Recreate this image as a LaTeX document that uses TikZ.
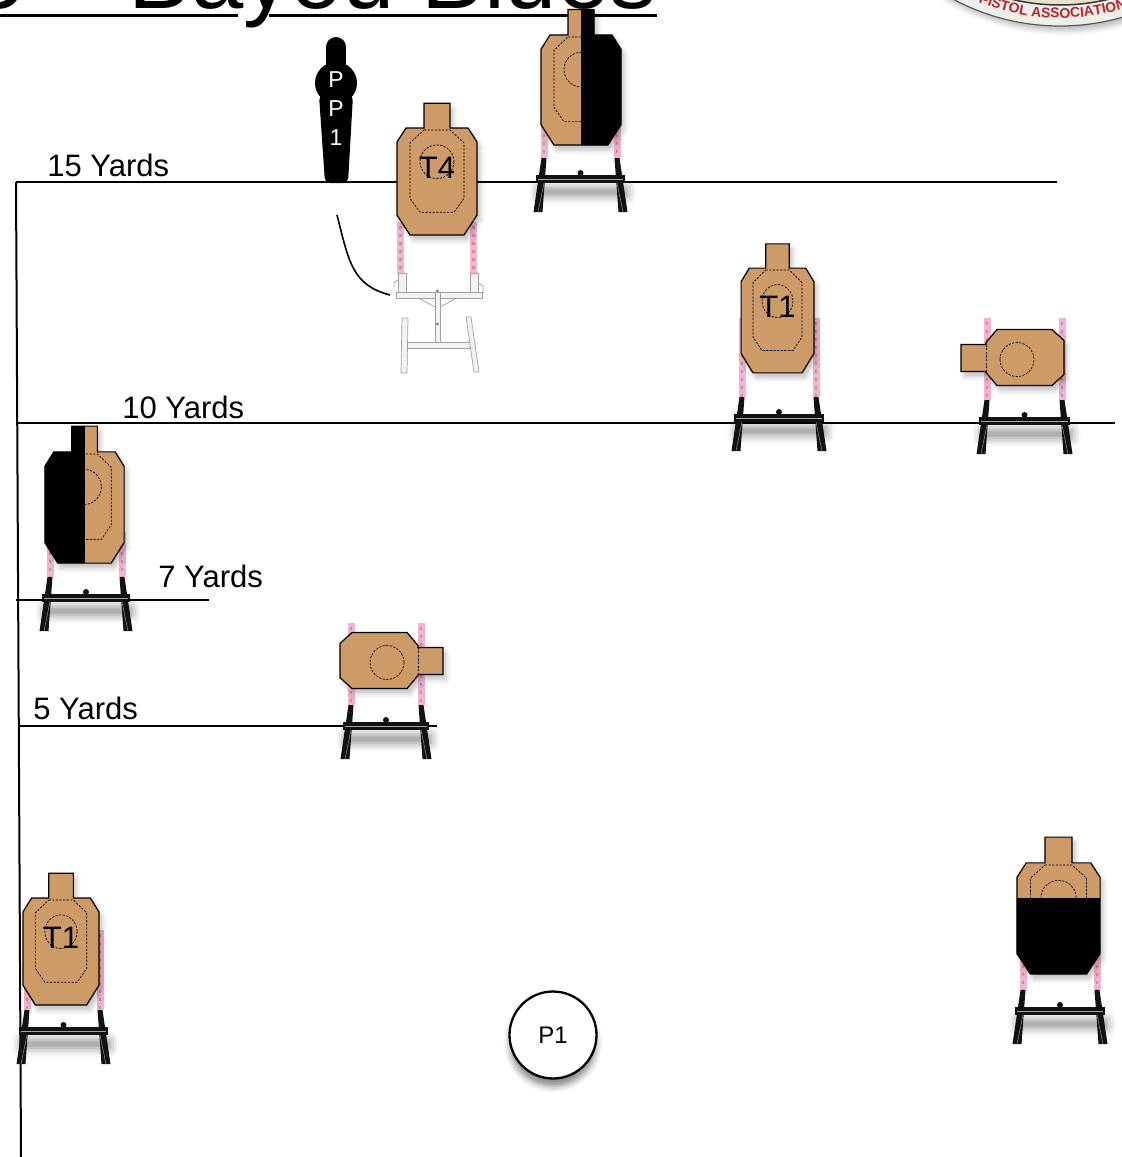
\documentclass[tikz,border=0pt]{standalone}
\usepackage{fontspec}
\setmainfont{Liberation Sans}
\usetikzlibrary{shadows.blur, decorations.text}

\definecolor{targettan}{RGB}{205,155,104}
\definecolor{stickpink}{RGB}{238,155,195}
\definecolor{stickcore}{RGB}{196,110,110}
\definecolor{standblack}{RGB}{18,18,18}
\definecolor{framegray}{RGB}{160,160,160}
\definecolor{framewhite}{RGB}{242,242,242}
\definecolor{sealred}{RGB}{185,35,45}
\definecolor{sealband}{RGB}{238,238,234}
\definecolor{sealinner}{RGB}{232,226,204}

\tikzset{
    targetline/.style={draw=black, line width=1.2pt},
    zoneline/.style={draw=black, line width=0.7pt, dash pattern=on 2.2pt off 1.4pt},
    yardline/.style={draw=black, line width=2pt},
    yardlabel/.style={anchor=base west, inner sep=0pt, font=\fontsize{31}{31}\selectfont},
    targetlabel/.style={inner sep=0pt, font=\fontsize{31}{31}\selectfont},
    softshadow/.style={blur shadow={shadow xshift=3pt, shadow yshift=-5pt,
        shadow blur radius=5pt, shadow opacity=25}},
    barshadow/.style={blur shadow={shadow xshift=2pt, shadow yshift=-13pt,
        shadow blur radius=9pt, shadow opacity=45}},
}

% outline of an upright target, body centred on the origin
\newcommand*{\TargetPath}{(-40,-40) -- (-31,-54) -- (-13,-54) -- (-13,-79) -- (13,-79)
    -- (13,-54) -- (31,-54) -- (40,-40) -- (40,34) -- (27,54) -- (-27,54) -- (-40,34) -- cycle}
\newcommand*{\ZonePath}{(-13,-52) -- (13,-52) -- (27,-39) -- (27,17) -- (17,31)
    -- (-17,31) -- (-27,17) -- (-27,-39) -- cycle}
% same target lying on its side, head to the right
\newcommand*{\SidePath}{(-39,-17) -- (-27,-28) -- (28,-28) -- (39,-15) -- (39,-13) -- (64,-13)
    -- (64,14) -- (39,14) -- (39,15) -- (28,28) -- (-27,28) -- (-39,17) -- cycle}

\newcommand*{\DrawPosts}[4]{%
    % #1 = centre x
    % #2 = half spacing of the posts
    % #3 = top of the posts
    % #4 = bottom of the posts
    \foreach \s in {-1,1} {
        \fill[stickpink, opacity=0.75] ({#1+(\s)*(#2)-3.5},#3) rectangle ({#1+(\s)*(#2)+3.5},#4);
        \draw[stickcore, line width=2.5pt, dash pattern=on 3pt off 5pt, opacity=0.6]
            ({#1+(\s)*(#2)},#3+4) -- ({#1+(\s)*(#2)},#4);
    }
}

\newcommand*{\DrawStand}[4]{%
    % #1 = centre x
    % #2 = half spacing of the legs
    % #3 = top of the pink posts
    % #4 = top of the legs
    \DrawPosts{#1}{#2}{#3}{#4}
    \fill[standblack, barshadow] (#1-#2-8,#4+17) rectangle (#1+#2+8,#4+25);
    \foreach \s in {-1,1} {% legs
        \fill[standblack] ({#1+(\s)*(#2)-2.5},#4) -- ({#1+(\s)*(#2)+2.5},#4)
            -- ({#1+(\s)*(#2+6)+4.5},#4+54) -- ({#1+(\s)*(#2+6)-4.5},#4+54) -- cycle;
        \draw[gray, line width=0.6pt] ({#1+(\s)*(#2)},#4+25) -- ({#1+(\s)*(#2+6)},#4+54);
    }
    \draw[gray!70, line width=0.6pt] (#1-#2-6,#4+21) -- (#1+#2+6,#4+21);
    \fill[standblack] (#1,#4+15) circle (3);
}

\newcommand*{\DrawTarget}[5][]{%
    % #1 = part painted black (optional)
    % #2 = centre of the body
    % #3 = xscale, #4 = yscale
    % #5 = label
    \begin{scope}[shift={#2}, xscale=#3, yscale=#4]
        \fill[targettan, softshadow] \TargetPath;
        \draw[zoneline] \ZonePath;
        \draw[zoneline] (0,-20) circle (17);
        \if\relax\detokenize{#1}\relax\else
            \begin{scope}
                \clip \TargetPath;
                \fill[black] #1;
            \end{scope}
        \fi
        \draw[targetline] \TargetPath;
        \node[targetlabel] at (0,-14) {#5};
    \end{scope}
}

\newcommand*{\DrawSideTarget}[2]{%
    % #1 = centre of the body
    % #2 = 1 for the head to the right, -1 for the head to the left
    \begin{scope}[shift={#1}, xscale=#2]
        \fill[targettan, softshadow] \SidePath;
        \draw[zoneline] (8,2) circle (17);
        \draw[zoneline] (39,-13) -- (39,14);
        \draw[targetline] \SidePath;
    \end{scope}
}

\begin{document}
\begin{tikzpicture}[x=1pt, y=-1pt, thick]
    \useasboundingbox (0,0) rectangle (1122,1157);
    \clip (0,0) rectangle (1122,1157);

    % club seal in the corner
    \begin{scope}[y=1pt]
        \filldraw[fill=sealband, draw=gray!70!black, line width=1.2pt, softshadow]
            (1060,200) circle (226);
        \filldraw[fill=sealinner, draw=black!80, line width=1.5pt] (1060,200) circle (205);
        \path[decorate, decoration={text along path, text color=sealred,
            text={|\bfseries\fontsize{14}{14}\selectfont|PISTOL ASSOCIATION}}]
            (1060,200) ++(248:218) arc[start angle=248, end angle=300, radius=218];
    \end{scope}

    % title
    \node[anchor=base east, inner sep=0pt, font=\fontsize{94}{94}\selectfont]
        (title) at (657,8) {5 – Bayou Blues};
    \draw[line width=3pt] (0,15) -- (238,15) (269,15) -- (657,15);

    % distance lines
    \draw[yardline] (16,182) -- (21,1157);
    \draw[yardline] (16,182) -- (1057,182);
    \draw[yardline] (16,423) -- (1115,423);
    \draw[yardline] (16,600) -- (209,600);
    \draw[yardline] (18,726) -- (437,726);
    \node[yardlabel] (y15) at (47,176) {15 Yards};
    \node[yardlabel] (y10) at (122,418) {10 Yards};
    \node[yardlabel] (y7) at (158,587) {7 Yards};
    \node[yardlabel] (y5) at (33,719) {5 Yards};

    % stands
    \foreach \px/\pw/\ps/\pl in {580.5/36.5/122/158, 779/37/318/397, 1024.5/37.5/318/400,
        86/36/532/577, 386/35/623/705, 63.5/36.5/930/1010, 1060/37/945/990}
        {\DrawStand{\px}{\pw}{\ps}{\pl}}

    % white stand under T4
    \DrawPosts{437}{36.5}{222}{275}
    \begin{scope}[fill=framewhite, draw=framegray, line width=0.7pt]
        \filldraw (398,273) rectangle (406,297);
        \filldraw (470,273) rectangle (478,297);
        \filldraw (396,292) rectangle (482,298);
        \draw (418,298) -- (435,307) (457,298) -- (440,307);
        \filldraw (435,292) rectangle (440,345);
        \filldraw (407,342) rectangle (472,348);
        \filldraw (402,318) -- (408,318) -- (407,373) -- (401,373) -- cycle;
        \filldraw (466,317) -- (471,317) -- (479,372) -- (474,372) -- cycle;
        \draw (398,280) -- (394,283) -- (394,287);
        \draw (478,283) -- (483,286) -- (483,294);
        \fill[gray] (437.5,291) circle (1.6) (437.5,324) circle (1.6);
    \end{scope}

    % targets
    \DrawTarget{(437,181.5)}{1}{0.99}{T4}
    \DrawTarget[(0,-100) rectangle (60,70)]{(581,90)}{1}{1.02}{}
    \DrawTarget{(777.5,320.5)}{0.91}{0.97}{T1}
    \DrawTarget[(-60,-100) rectangle (0,70)]{(84.5,507.5)}{0.99}{1.03}{}
    \DrawTarget{(61,951.5)}{0.95}{0.99}{T1}
    \DrawTarget[(-60,-20) rectangle (60,70)]{(1058.5,918.5)}{1.04}{1.03}{}
    \DrawSideTarget{(1025,357.5)}{-1}
    \DrawSideTarget{(379,660.5)}{1}

    % no-shoot silhouette
    \fill (336,47) circle (10);
    \fill (326,47) rectangle (346,75);
    \fill (336,83) circle (21);
    \fill[rounded corners=5pt] (319,95) -- (325,183) -- (348,183) -- (353,95) -- cycle;
    \node[text=white, inner sep=0pt, align=center, font=\fontsize{23}{29}\selectfont]
        (pp1) at (336,109) {P\\P\\1};
    \draw[line width=1.6pt] (337,215) .. controls (349,262) and (352,285) .. (390,295);

    % start position
    \node[circle, draw=black, line width=2.3pt, fill=white, minimum size=87pt, inner sep=0pt,
        font=\fontsize{24}{24}\selectfont,
        blur shadow={shadow xshift=0pt, shadow yshift=-8pt, shadow blur radius=6pt, shadow opacity=45}]
        (p1) at (553,1035) {P1};
\end{tikzpicture}
\end{document}
